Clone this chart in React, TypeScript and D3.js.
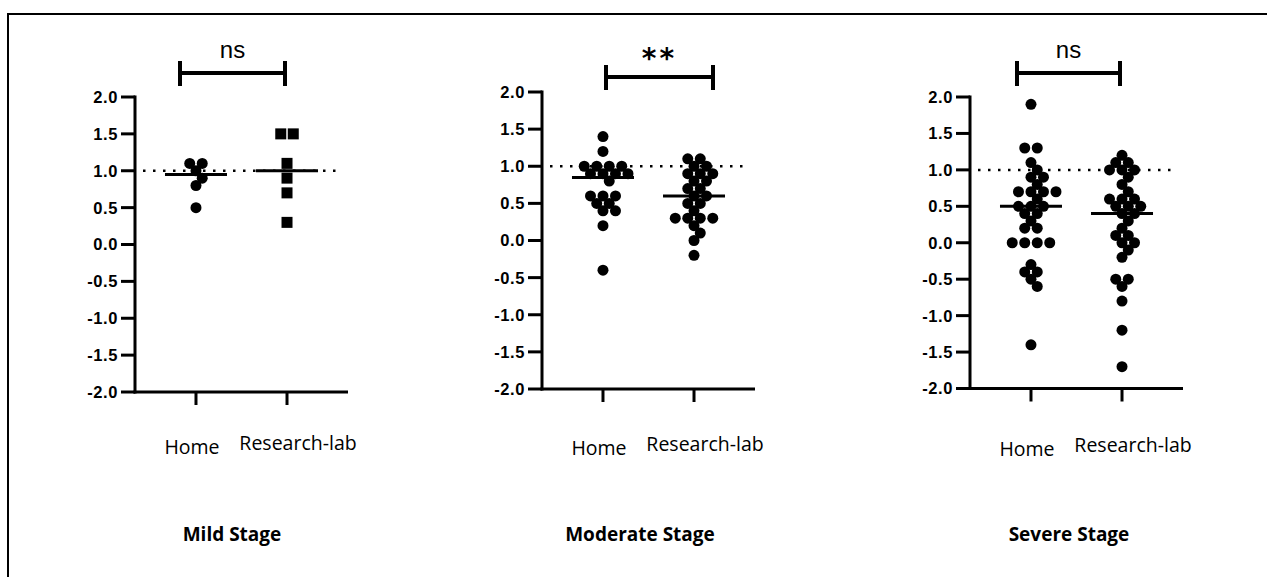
import React from 'react'
import * as d3 from 'd3'

// categories / labels
const groups = ['Home', 'Research-lab']
const stages = ['Mild Stage', 'Moderate Stage', 'Severe Stage']
const sigLabels = ['ns', '**', 'ns']
const yTicks = [2.0, 1.5, 1.0, 0.5, 0.0, -0.5, -1.0, -1.5, -2.0]
const refLine = 1.0

// values
const mildHome = [1.1, 1.1, 1.0, 0.9, 0.8, 0.5]
const mildLab = [1.5, 1.5, 1.1, 0.9, 0.7, 0.3]
const moderateHome = [1.4, 1.2, 1.0, 1.0, 1.0, 1.0, 0.9, 0.9, 0.9, 0.9, 0.8, 0.6, 0.6, 0.6, 0.5, 0.5, 0.4, 0.4, 0.2, -0.4]
const moderateLab = [1.1, 1.1, 1.0, 1.0, 0.9, 0.9, 0.9, 0.8, 0.8, 0.7, 0.7, 0.6, 0.6, 0.5, 0.5, 0.4, 0.3, 0.3, 0.3, 0.3, 0.2, 0.1, 0.0, -0.2]
const severeHome = [1.9, 1.3, 1.3, 1.1, 1.0, 0.9, 0.9, 0.8, 0.7, 0.7, 0.7, 0.7, 0.6, 0.5, 0.5, 0.5, 0.4, 0.4, 0.3, 0.2, 0.2, 0.0, 0.0, 0.0, 0.0, -0.3, -0.4, -0.4, -0.5, -0.6, -1.4]
const severeLab = [1.2, 1.1, 1.1, 1.0, 1.0, 1.0, 0.9, 0.8, 0.7, 0.6, 0.6, 0.6, 0.5, 0.5, 0.5, 0.4, 0.4, 0.3, 0.2, 0.1, 0.1, 0.0, 0.0, -0.1, -0.2, -0.5, -0.5, -0.6, -0.8, -1.2, -1.7]

const series = [
  [mildHome, mildLab],
  [moderateHome, moderateLab],
  [severeHome, severeLab],
]
const labShapes = ['square', 'circle', 'circle']

// layout of each panel
const panels = [
  {axisX: 135, top: 97, bottom: 392, sig: {x0: 45, x1: 150, y: 73}, textDy: 0},
  {axisX: 542, top: 92, bottom: 389, sig: {x0: 64, x1: 171, y: 77}, textDy: 2},
  {axisX: 970, top: 97, bottom: 388.5, sig: {x0: 47, x1: 150, y: 73}, textDy: 4},
]
const axisLen = 213
const R = 5.5
const STEP = 12.5
const MIN_DIST = 9.2

function swarm(values: number[], y: (v: number) => number) {
  const sorted = [...values].sort((a, b) => b - a)
  const placed: {v: number; dx: number; y: number}[] = []
  const rows = d3.groups(sorted, (d) => d)
  for (const [v, items] of rows) {
    const yy = y(v)
    const ok = (dx: number) => placed.every((p) => Math.hypot(p.dx - dx, p.y - yy) >= MIN_DIST)
    const n = items.length
    const sym = d3.range(n).map((k) => (k - (n - 1) / 2) * STEP)
    if (sym.every(ok)) {
      sym.forEach((dx) => placed.push({v, dx, y: yy}))
      continue
    }
    const cands = [0]
    for (let k = 1; k < 40; k++) cands.push((k * STEP) / 2, (-k * STEP) / 2)
    for (let i = 0; i < n; i++) {
      const dx = cands.find((c) => ok(c) && placed.every((p) => p.y !== yy || Math.abs(p.dx - c) >= STEP - 0.1)) ?? 0
      placed.push({v, dx, y: yy})
    }
  }
  return placed
}

function Panel({idx}: {idx: number}) {
  const p = panels[idx]
  const x = d3.scalePoint<string>().domain(groups).range([p.axisX, p.axisX + axisLen]).padding(0.67)
  const y = d3.scaleLinear().domain([-2, 2]).range([p.bottom, p.top])
  const end = p.axisX + axisLen
  const sigCx = p.axisX + (p.sig.x0 + p.sig.x1) / 2
  const isStar = sigLabels[idx] === '**'
  return (
    <g>
      {/* reference line */}
      <line x1={p.axisX + 8} x2={end - 8} y1={y(refLine)} y2={y(refLine)} stroke="#000" strokeWidth={2.5} strokeDasharray="2.5 7.5" />
      {/* y axis */}
      <line x1={p.axisX} x2={p.axisX} y1={p.top - 1.5} y2={p.bottom + 1.5} stroke="#000" strokeWidth={3} />
      {yTicks.map((t) => (
        <g key={t}>
          <line x1={p.axisX - 14} x2={p.axisX} y1={y(t)} y2={y(t)} stroke="#000" strokeWidth={3} />
          <text x={p.axisX - 17} y={y(t)} dy="0.36em" textAnchor="end" fontFamily="Liberation Sans, Arial, sans-serif" fontWeight="bold" fontSize={16.5} letterSpacing={0.6}>
            {t.toFixed(1)}
          </text>
        </g>
      ))}
      {/* x axis */}
      <line x1={p.axisX - 1.5} x2={end} y1={p.bottom} y2={p.bottom} stroke="#000" strokeWidth={3} />
      {groups.map((g, gi) => (
        <g key={g}>
          <line x1={x(g)} x2={x(g)} y1={p.bottom} y2={p.bottom + 13} stroke="#000" strokeWidth={3} />
          <text x={(x(g) as number) + (gi === 0 ? -4 : 11)} y={(gi === 0 ? 454 : 450) + p.textDy * 0.5} textAnchor="middle" fontFamily="Open Sans, sans-serif" fontSize={19.5}>
            {g}
          </text>
        </g>
      ))}
      {/* points */}
      {series[idx].map((vals, gi) => {
        const cx = x(groups[gi]) as number
        const pts = swarm(vals, y)
        const med = d3.median(vals) as number
        const square = gi === 1 && labShapes[idx] === 'square'
        return (
          <g key={gi}>
            {pts.map((pt, i) =>
              square ? (
                <rect key={i} x={cx + pt.dx - 5.5} y={pt.y - 5.5} width={11} height={11} fill="#000" />
              ) : (
                <circle key={i} cx={cx + pt.dx} cy={pt.y} r={R} fill="#000" />
              ),
            )}
            <line x1={cx - 31} x2={cx + 31} y1={y(med)} y2={y(med)} stroke="#000" strokeWidth={3} />
          </g>
        )
      })}
      {/* significance bar */}
      <g stroke="#000" strokeWidth={4}>
        <line x1={p.axisX + p.sig.x0} x2={p.axisX + p.sig.x1} y1={p.sig.y} y2={p.sig.y} />
        <line x1={p.axisX + p.sig.x0} x2={p.axisX + p.sig.x0} y1={p.sig.y - 12} y2={p.sig.y + 13} />
        <line x1={p.axisX + p.sig.x1} x2={p.axisX + p.sig.x1} y1={p.sig.y - 12} y2={p.sig.y + 13} />
      </g>
      {isStar ? (
        <text x={sigCx} y={68} textAnchor="middle" fontFamily="DejaVu Sans, sans-serif" fontWeight="bold" fontSize={28} letterSpacing={3}>
          {sigLabels[idx]}
        </text>
      ) : (
        <text x={sigCx} y={58} textAnchor="middle" fontFamily="Liberation Sans, Arial, sans-serif" fontSize={24}>
          {sigLabels[idx]}
        </text>
      )}
      {/* stage title */}
      <text x={p.axisX + 97 + p.textDy * 0.5} y={541} textAnchor="middle" fontFamily="Open Sans, sans-serif" fontWeight="bold" fontSize={19}>
        {stages[idx]}
      </text>
    </g>
  )
}

export default function App() {
  return (
    <svg width={1267} height={577} style={{position: 'absolute', left: 0, top: 0, background: '#fff'}}>
      <rect x={8} y={14} width={1300} height={700} fill="#fff" stroke="#000" strokeWidth={2} />
      {panels.map((_, i) => (
        <Panel key={i} idx={i} />
      ))}
    </svg>
  )
}
